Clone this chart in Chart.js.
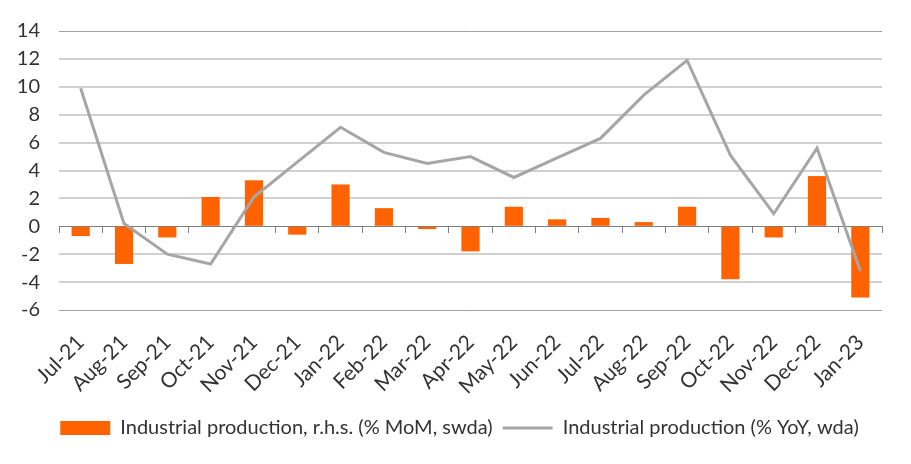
<!DOCTYPE html>
<html>
<head>
<meta charset="utf-8">
<script src="https://cdn.jsdelivr.net/npm/chart.js@4.4.1/dist/chart.umd.min.js"></script>
<style>
  html, body { margin: 0; padding: 0; background: #fff; }
  #wrap { width: 911px; height: 464px; }
</style>
</head>
<body>
<div id="wrap"><canvas id="ipChart"></canvas></div>
<script>
// ---- Datos ----
const meses = ['Jul-21', 'Aug-21', 'Sep-21', 'Oct-21', 'Nov-21', 'Dec-21',
               'Jan-22', 'Feb-22', 'Mar-22', 'Apr-22', 'May-22', 'Jun-22',
               'Jul-22', 'Aug-22', 'Sep-22', 'Oct-22', 'Nov-22', 'Dec-22', 'Jan-23'];

// % MoM, swda (barras)
const momValues = [-0.7, -2.7, -0.8, 2.1, 3.3, -0.6, 3.0, 1.3, -0.2, -1.8,
                   1.4, 0.5, 0.6, 0.3, 1.4, -3.8, -0.8, 3.6, -5.1];

// % YoY, wda (línea)
const yoyValues = [9.9, 0.2, -2.0, -2.7, 2.1, 4.6, 7.1, 5.3, 4.5, 5.0,
                   3.5, 4.9, 6.3, 9.4, 11.9, 5.1, 0.9, 5.6, -3.2];

const yTicks = [-6, -4, -2, 0, 2, 4, 6, 8, 10, 12, 14];

// ---- Colores ----
const ORANGE    = '#ff6200';
const LINE_GREY = '#a6a6a6';
const GRID      = '#d0d0d0';
const EDGE      = '#a0a0a0';
const ZERO      = '#7f7f7f';
const TEXT      = '#333333';
const FONT      = 'Lato';

new Chart(document.getElementById('ipChart'), {
    data: {
        labels: meses,
        datasets: [
            {
                type: 'bar',
                label: 'Industrial production, r.h.s. (% MoM, swda)',
                data: momValues,
                backgroundColor: ORANGE,
                borderWidth: 0,
                barPercentage: 0.42,
                categoryPercentage: 1.0,
                pointStyle: 'rect',
                order: 2
            },
            {
                type: 'line',
                label: 'Industrial production (% YoY, wda)',
                data: yoyValues,
                borderColor: LINE_GREY,
                backgroundColor: LINE_GREY,
                borderWidth: 3,
                tension: 0,
                pointRadius: 0,
                pointStyle: 'line',
                order: 1
            }
        ]
    },
    options: {
        responsive: true,
        maintainAspectRatio: false,
        animation: false,
        layout: { padding: { top: 13, right: 0, bottom: 16, left: 8 } },
        plugins: {
            legend: {
                position: 'bottom',
                labels: {
                    usePointStyle: true,
                    pointStyleWidth: 50,
                    boxHeight: 14,
                    padding: 10,
                    color: TEXT,
                    font: { family: FONT, size: 20 },
                    sort: (a, b) => a.datasetIndex - b.datasetIndex
                }
            },
            tooltip: { enabled: false }
        },
        scales: {
            x: {
                grid: { display: false },
                border: { display: false },
                ticks: {
                    color: TEXT,
                    maxRotation: 45,
                    minRotation: 45,
                    padding: 12,
                    font: { family: FONT, size: 21 }
                },
                afterFit: s => { s.height = 98; }
            },
            x0: {
                type: 'category',
                labels: meses,
                position: { y: 0 },
                offset: true,
                grid: {
                    offset: true,
                    drawOnChartArea: false,
                    drawTicks: true,
                    tickLength: 6,
                    color: ZERO,
                    lineWidth: 1
                },
                border: { display: true, color: ZERO, width: 1 },
                ticks: { display: false }
            },
            y: {
                min: -6,
                max: 14,
                afterBuildTicks: s => { s.ticks = yTicks.map(v => ({ value: v })); },
                border: { display: false },
                grid: {
                    drawTicks: false,
                    color: c => {
                        const v = c.tick.value;
                        if (v === 0) return ZERO;
                        if (v === 14 || v === -6) return EDGE;
                        return GRID;
                    },
                    lineWidth: c => {
                        const v = c.tick.value;
                        return (v === 0 || v === 14 || v === -6) ? 1 : 2;
                    }
                },
                ticks: {
                    color: TEXT,
                    padding: 19,
                    font: { family: FONT, size: 20 }
                },
                afterFit: s => { s.width = 51; }
            },
            // eje vacío a la derecha: sólo reserva el margen
            yPad: {
                position: 'right',
                min: -6,
                max: 14,
                border: { display: false },
                grid: { display: false },
                ticks: { display: false },
                afterFit: s => { s.width = 29; }
            }
        }
    }
});
</script>
</body>
</html>
